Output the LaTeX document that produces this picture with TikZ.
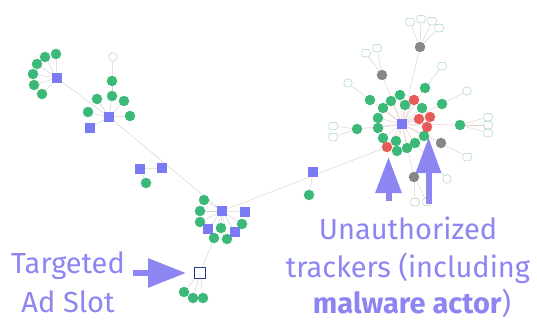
\documentclass[tikz,border=0pt]{standalone}
\usepackage{fontspec}
\setmainfont{Fira Sans}
\usetikzlibrary{arrows.meta,backgrounds}
\definecolor{ngreen}{RGB}{60,184,120}
\definecolor{nblue}{RGB}{122,122,245}
\definecolor{nred}{RGB}{232,92,88}
\definecolor{ngrey}{RGB}{135,135,135}
\definecolor{wline}{RGB}{165,212,190}
\definecolor{lav}{RGB}{140,133,242}
\definecolor{adblue}{RGB}{40,60,150}
\definecolor{edgec}{RGB}{212,212,212}
\definecolor{edgep}{RGB}{232,208,208}
\begin{document}
\begin{tikzpicture}[x=1pt,y=-1pt,
 gn/.style={circle,fill=ngreen,minimum size=10.5pt,inner sep=0pt},
 rn/.style={circle,fill=nred,minimum size=10.5pt,inner sep=0pt},
 kn/.style={circle,fill=ngrey,minimum size=10.5pt,inner sep=0pt},
 bq/.style={rectangle,fill=nblue,minimum size=9.5pt,inner sep=0pt},
 wn/.style={rectangle,rounded corners=2.5pt,draw=wline,fill=white,line width=0.5pt,minimum width=8.5pt,minimum height=7.5pt,inner sep=0pt},
 ad/.style={rectangle,draw=adblue,fill=white,line width=1.1pt,minimum size=11pt,inner sep=0pt},
 ed/.style={draw=edgec,line width=0.5pt},
 edp/.style={draw=edgep,line width=0.5pt},
 bigarrow/.style={draw=lav,line width=6pt},
 lbl/.style={text=lav,font=\fontsize{29}{36}\selectfont,inner sep=0pt,anchor=base}
]
\useasboundingbox (0,0) rectangle (537,324);
% cluster A
\node[bq] (a0) at (57,78) {};
\node[gn] (a1) at (56,54) {};
\node[gn] (a2) at (45,57) {};
\node[gn] (a3) at (37,64) {};
\node[gn] (a4) at (33,74) {};
\node[gn] (a5) at (34,85) {};
\node[gn] (a6) at (42,94) {};
% cluster B
\node[bq] (b0) at (109,117) {};
\node[bq] (b1) at (90,128) {};
\node[gn] (b2) at (112,81) {};
\node[gn] (b3) at (112,96) {};
\node[gn] (b4) at (97,99) {};
\node[gn] (b5) at (124,101) {};
\node[gn] (b6) at (88,112) {};
\node[gn] (b7) at (130,116) {};
\node[wn,circle,minimum size=8.5pt] (b8) at (113,57) {};
% middle
\node[bq] (m1) at (140,169) {};
\node[bq] (m2) at (162,168) {};
\node[gn] (m3) at (146,183) {};
% cluster C
\node[bq] (c0) at (222,211) {};
\node[bq] (c1) at (245,212) {};
\node[gn] (c2) at (204,200) {};
\node[gn] (c3) at (200,211) {};
\node[gn] (c4) at (200,222) {};
\node[bq] (c5) at (208,229) {};
\node[gn] (c6) at (221,228) {};
\node[gn] (c7) at (214,238) {};
\node[gn] (c8) at (227,239) {};
\node[bq] (c9) at (235,232) {};
\node[gn] (c10) at (242,224) {};
% ad slot
\node[ad] (t0) at (200,273) {};
\node[gn] (t1) at (184,292) {};
\node[gn] (t2) at (193,298) {};
\node[gn] (t3) at (203,298) {};
% lone pair
\node[bq] (n1) at (313,172) {};
\node[gn] (n2) at (309,195) {};
% cluster D
\node[bq] (d0) at (402,124) {};
\node[gn] (r1) at (400,95) {};
\node[gn] (r2) at (391,101) {};
\node[gn] (r3) at (383,108) {};
\node[gn] (r4) at (378,118) {};
\node[gn] (r5) at (378,128) {};
\node[gn] (r6) at (383,138) {};
\node[rn] (r7) at (387,147) {};
\node[gn] (r8) at (397,151) {};
\node[gn] (r9) at (407,148) {};
\node[gn] (r10) at (396,141) {};
\node[gn] (r11) at (415,143) {};
\node[gn] (r12) at (424,136) {};
\node[rn] (r13) at (427,127) {};
\node[rn] (r14) at (419,119) {};
\node[rn] (r15) at (430,117) {};
\node[gn] (r16) at (422,108) {};
\node[rn] (r17) at (414,100) {};
\node[gn] (r18) at (405,105) {};
\node[gn] (o1) at (370,100) {};
\node[gn] (o2) at (425,88) {};
\node[gn] (o3) at (442,104) {};
\node[gn] (o4) at (460,125) {};
\node[gn] (o5) at (357,129) {};
\node[kn] (k1) at (382,75) {};
\node[kn] (k2) at (420,47) {};
\node[kn] (k3) at (441,143) {};
\node[kn] (k4) at (414,177) {};
\node[wn,circle,minimum size=8.5pt] (w1) at (348,83) {};
\node[wn] (w2) at (442,66) {};
\node[wn,circle,minimum size=8.5pt] (w3) at (467,91) {};
\node[wn] (w4a) at (488,117) {};
\node[wn] (w4b) at (488,125) {};
\node[wn] (w4c) at (488,133) {};
\node[wn] (w5a) at (333,126) {};
\node[wn] (w5b) at (333,137) {};
\node[wn] (w6a) at (377,48) {};
\node[wn] (w6b) at (366,53) {};
\node[wn] (w7a) at (410,22) {};
\node[wn] (w7b) at (421,19) {};
\node[wn] (w7c) at (432,21) {};
\node[wn] (w7d) at (439,28) {};
\node[wn] (w8) at (467,157) {};
\node[wn] (w9a) at (415,202) {};
\node[wn] (w9b) at (427,202) {};
\node[wn,circle,minimum size=8.5pt] (w10) at (447,179) {};
\begin{pgfonlayer}{background}
\foreach \n in {a1,a2,a3,a4,a5,a6,b0} \path[ed] (a0) -- (\n);
\foreach \n in {b1,b3,b4,b5,b6,b7,c0} \path[ed] (b0) -- (\n);
\path[ed] (b3) -- (b2);
\path[ed] (b2) -- (b8);
\path[ed] (m1) -- (m2);
\path[ed] (m1) -- (m3);
\foreach \n in {c1,c2,c3,c4,c5,c6,c7,c8,c9,c10} \path[ed] (c0) -- (\n);
\path[edp] (c0) -- (r7);
\path[ed] (c7) -- (t0);
\foreach \n in {t1,t2,t3} \path[ed] (t0) -- (\n);
\path[ed] (n1) -- (n2);
\foreach \n in {r1,r2,r3,r4,r5,r6,r7,r8,r9,r10,r11,r12,r13,r14,r15,r16,r17,r18,o1,o2,o3,o4,o5,k1,k2,k3,k4} \path[edp] (d0) -- (\n);
\path[ed] (o1) -- (w1);
\path[ed] (o2) -- (w2);
\path[ed] (o3) -- (w3);
\foreach \n in {w4a,w4b,w4c} \path[edp] (o4) -- (\n);
\foreach \n in {w5a,w5b} \path[edp] (o5) -- (\n);
\foreach \n in {w6a,w6b} \path[ed] (k1) -- (\n);
\foreach \n in {w7a,w7b,w7c,w7d} \path[ed] (k2) -- (\n);
\path[ed] (k3) -- (w8);
\foreach \n in {w9a,w9b} \path[ed] (k4) -- (\n);
\path[ed] (r11) -- (w10);
\end{pgfonlayer}
% annotation arrows
\coordinate (la0) at (388.5,201);
\coordinate (la1) at (388.5,157);
\coordinate (ra0) at (428.5,204);
\coordinate (ra1) at (428.5,137);
\coordinate (ta0) at (133,273);
\coordinate (ta1) at (186,273);
\draw[bigarrow,-{Triangle[length=36pt,width=25pt]}] (la0) -- (la1);
\draw[bigarrow,-{Triangle[length=36pt,width=24pt]}] (ra0) -- (ra1);
\draw[bigarrow,-{Triangle[length=38pt,width=28pt]}] (ta0) -- (ta1);
% labels
\node[lbl] (l1) at (68,273) {Targeted};
\node[lbl] (l2) at (68,312) {Ad Slot};
\node[lbl] (r1t) at (408,239) {Unauthorized};
\node[lbl] (r2t) at (408,277) {trackers (including};
\node[lbl] (r3t) at (412,313) {\textbf{malware actor})};
\end{tikzpicture}
\end{document}
